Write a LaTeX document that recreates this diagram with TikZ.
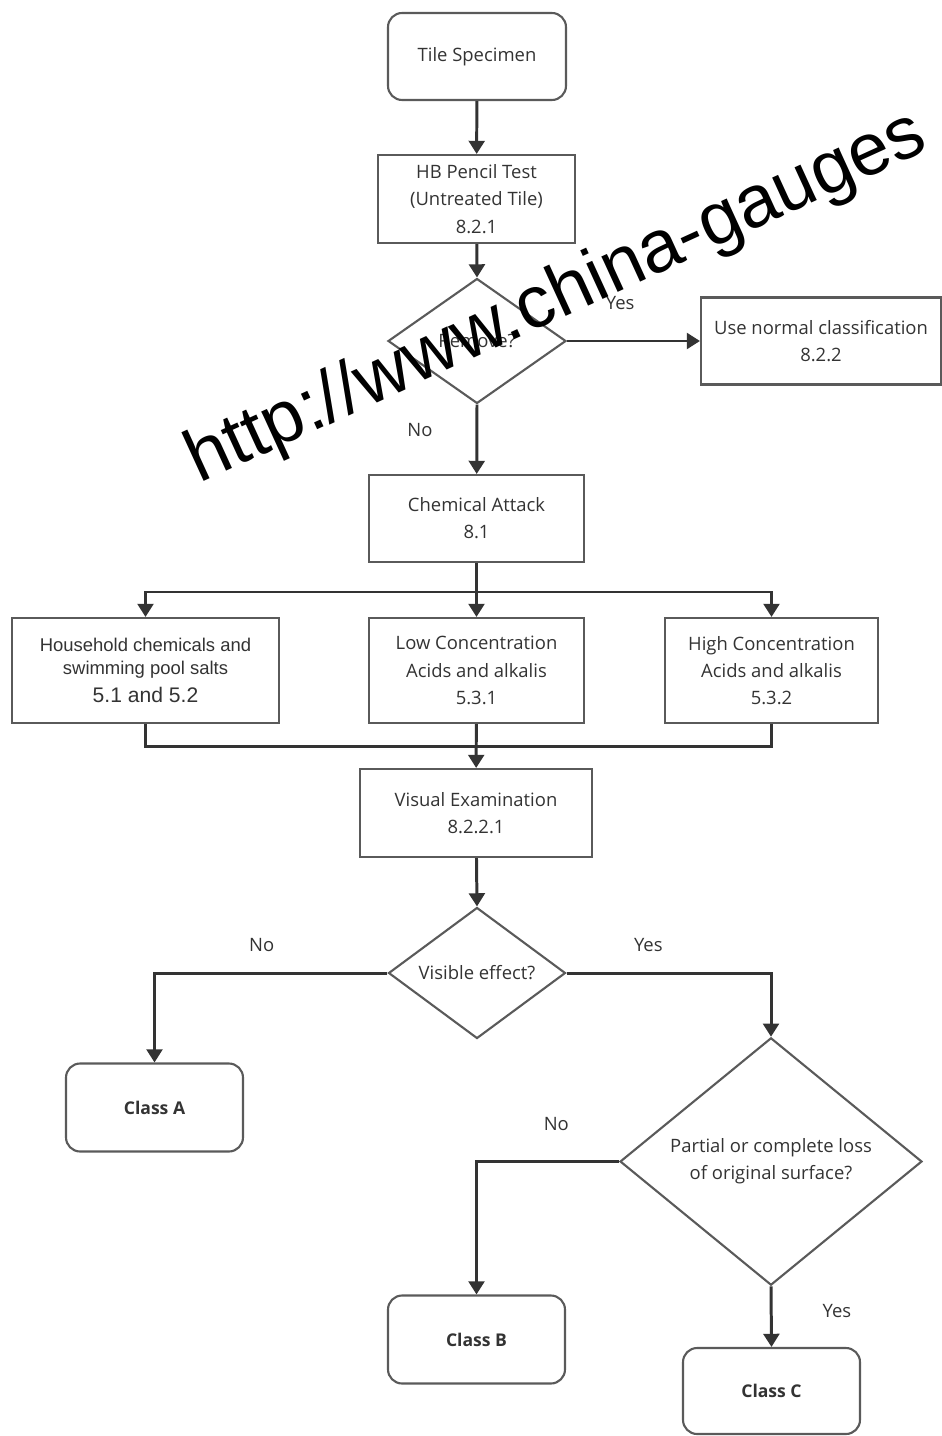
\documentclass[tikz,border=0pt]{standalone}
\usepackage{fontspec}
\setmainfont{Open Sans}
\newfontfamily\arialfont{Liberation Sans}
\usetikzlibrary{arrows.meta, positioning, shapes}

\definecolor{boxgrey}{HTML}{5A5A5A}
\definecolor{linegrey}{HTML}{333333}
\definecolor{textgrey}{HTML}{333333}

\tikzset{
  box/.style={rectangle, draw=boxgrey, line width=1.2pt, align=center, text=textgrey,
    font=\fontsize{10.5}{15.5}\selectfont},
  roundbox/.style={box, rounded corners=8pt},
  decision/.style={diamond, draw=boxgrey, line width=1.2pt, align=center, inner sep=0pt,
    text=textgrey, font=\fontsize{10.5}{15.5}\selectfont},
  classbox/.style={roundbox, minimum width=3.54cm, minimum height=1.76cm,
    font=\fontsize{10}{12}\selectfont\bfseries},
  line/.style={draw=linegrey, line width=1.7pt},
  arrow/.style={line, -{Triangle[width=9pt,length=7.5pt]}},
  lbl/.style={inner sep=0pt, text=textgrey, font=\fontsize{10.5}{12}\selectfont},
}

\begin{document}
\begin{tikzpicture}[x=0.02cm, y=-0.02cm]
    \useasboundingbox (0,0) rectangle (942,1436);

    % Nodes for the specimen and the pencil test
    \node (tile) [roundbox, minimum width=3.56cm, minimum height=1.74cm] at (477,56.5) {Tile Specimen};
    \node (pencil) [box, minimum width=3.94cm, minimum height=1.76cm] at (476.5,199) {HB Pencil Test\\(Untreated Tile)\\8.2.1};
    \node (remove) [decision, minimum width=3.56cm, minimum height=2.5cm] at (477,341) {Remove?};
    \node (normal) [box, minimum width=4.8cm, minimum height=1.74cm] at (821,341) {Use normal classification\\8.2.2};

    % Nodes for the chemical attack
    \node (chem) [box, minimum width=4.3cm, minimum height=1.74cm] at (476.5,518.5) {Chemical Attack\\8.1};
    \node (household) [box, minimum width=5.34cm, minimum height=2.1cm, font=\arialfont\fontsize{10.5}{13}\selectfont] at (145.5,670.5)
        {Household chemicals and\\swimming pool salts\\[3pt]{\fontsize{12}{14}\selectfont 5.1 and 5.2}};
    \node (lowconc) [box, minimum width=4.3cm, minimum height=2.1cm] at (476.5,670.5) {Low Concentration\\Acids and alkalis\\5.3.1};
    \node (highconc) [box, minimum width=4.26cm, minimum height=2.1cm] at (771.5,670.5) {High Concentration\\Acids and alkalis\\5.3.2};

    % Nodes for the examination and the classes
    \node (visual) [box, minimum width=4.64cm, minimum height=1.76cm] at (476,813) {Visual Examination\\8.2.2.1};
    \node (visible) [decision, minimum width=3.54cm, minimum height=2.52cm] at (477,973) {Visible effect?};
    \node (loss) [decision, minimum width=6.04cm, minimum height=4.34cm] at (771,1161.5) {Partial or complete loss\\of original surface?};
    \node (classA) [classbox] at (154.5,1107.5) {Class A};
    \node (classB) [classbox] at (476.5,1339.5) {Class B};
    \node (classC) [classbox, minimum height=1.72cm] at (771.5,1391) {Class C};

    % Arrows from the top down
    \draw[arrow] (tile) -- (pencil);
    \draw[arrow] (pencil) -- (remove.north);
    \draw[arrow] (remove.east) -- node[lbl, pos=0.4, above=0.6cm] {Yes} (normal);
    \draw[arrow] (remove.south) -- node[lbl, pos=0.37, left=0.86cm] {No} (chem);

    % Split to the three tests and join again
    \coordinate (split) at (477,592);
    \coordinate (join) at (477,746);
    \draw[arrow] (chem) -- (lowconc);
    \draw[arrow] (split) -| (household);
    \draw[arrow] (split) -| (highconc);
    \draw[line] (household.south) |- (join);
    \draw[line] (highconc.south) |- (join);
    \draw[arrow] (lowconc) -- (visual);

    % Decisions leading to the classes
    \draw[arrow] (visual) -- (visible.north);
    \draw[arrow] (visible.west) -| node[lbl, pos=0.27, above=0.4cm] {No} (classA.north);
    \draw[arrow] (visible.east) -| node[lbl, pos=0.2, above=0.4cm] {Yes} (loss.north);
    \draw[arrow] (loss.west) -| node[lbl, pos=0.22, above=0.58cm] {No} (classB.north);
    \draw[arrow] (loss.south) -- node[lbl, pos=0.41, right=1cm] {Yes} (classC.north);

    % Watermark over the chart
    \node (mark) [anchor=base west, inner sep=0pt, rotate=24.6, font=\arialfont\fontsize{42}{42}\selectfont] at (199,484) {http://www.china-gauges};
\end{tikzpicture}
\end{document}
